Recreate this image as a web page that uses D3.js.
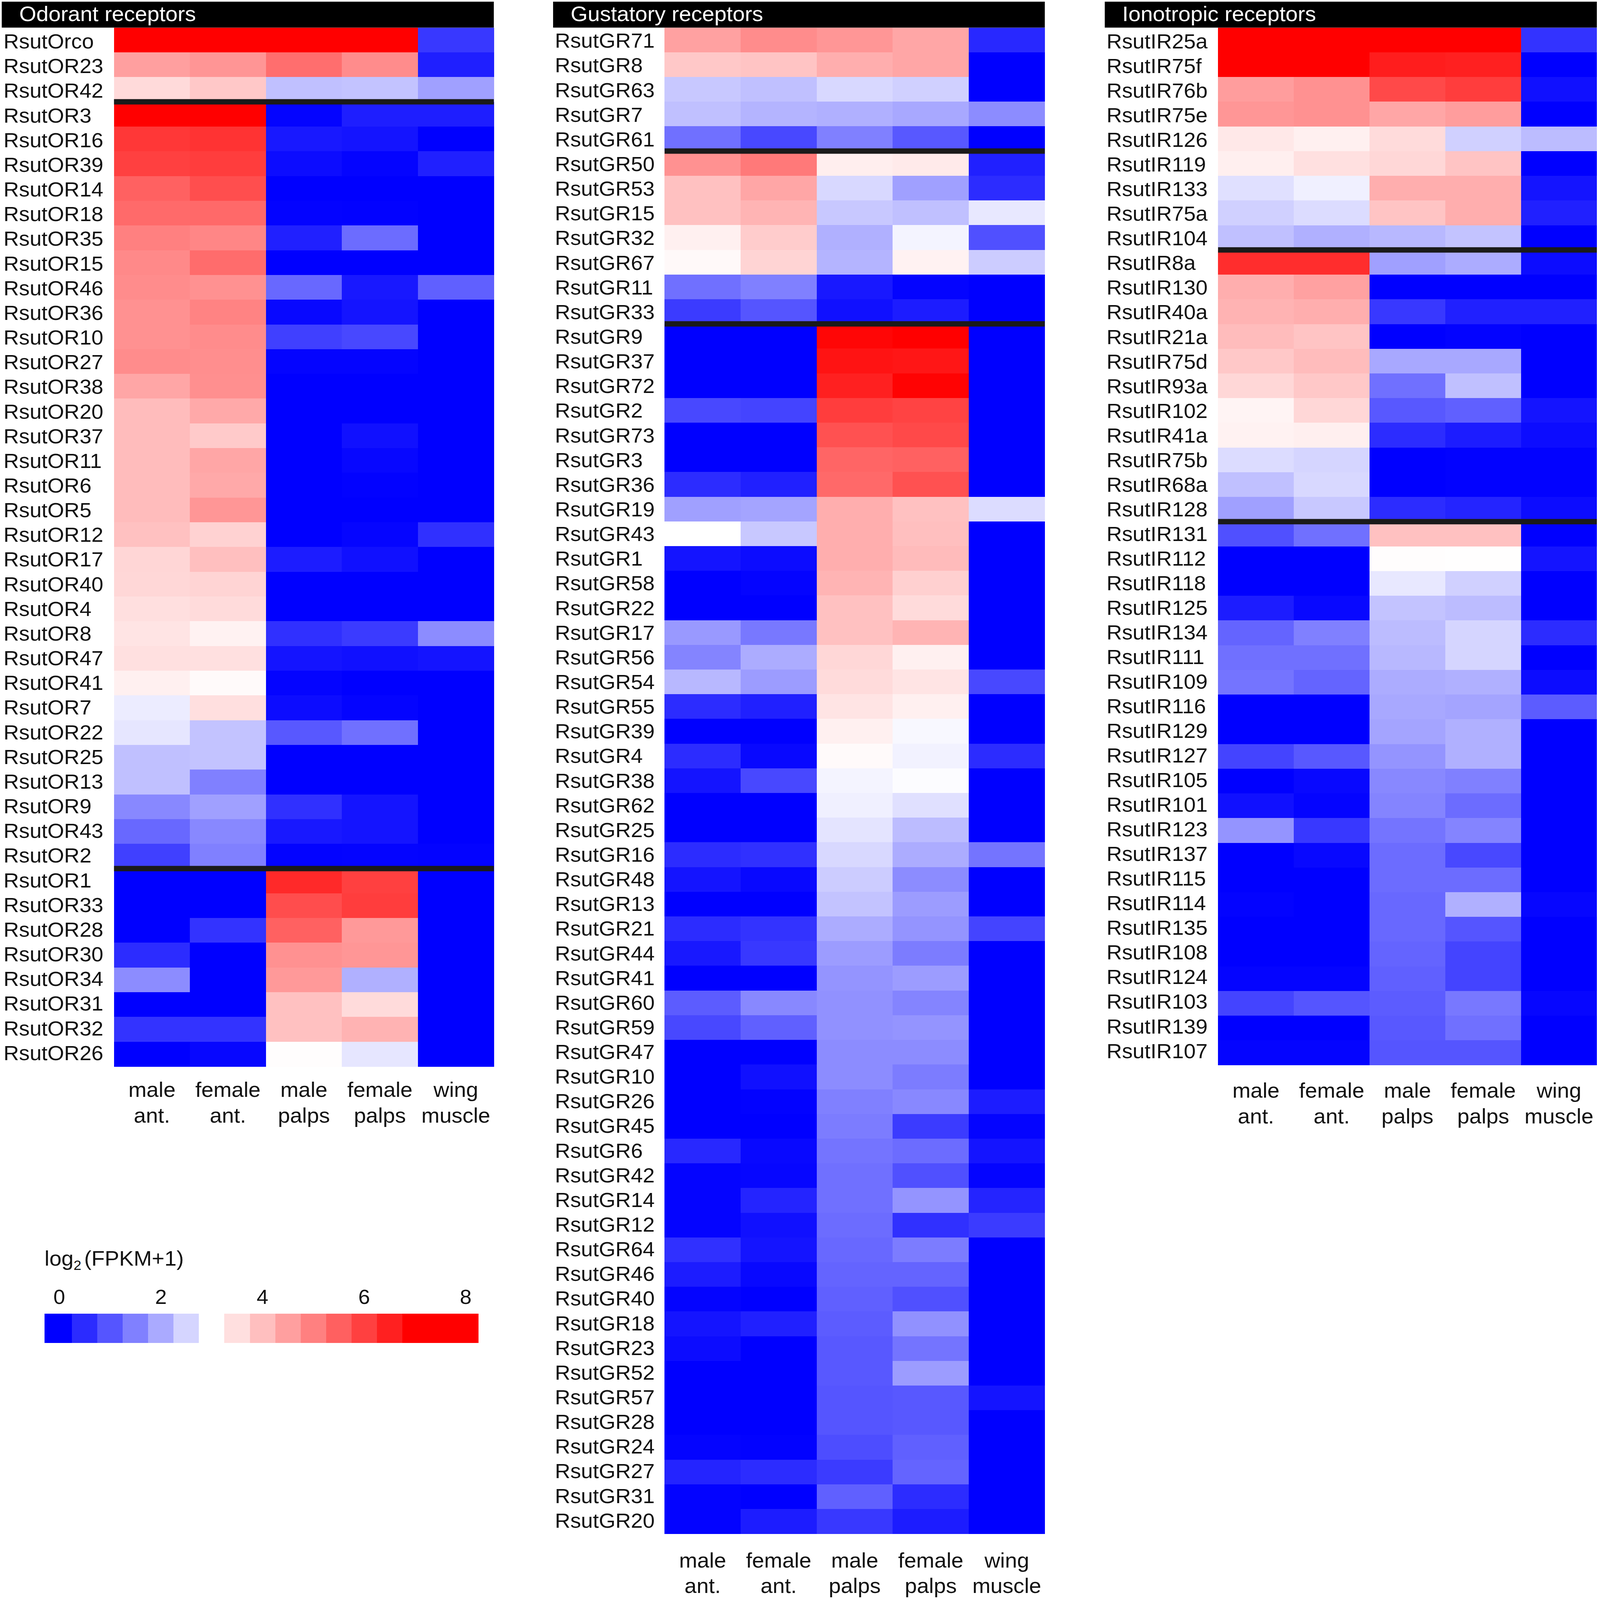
<!DOCTYPE html>
<html>
<head>
<meta charset="utf-8">
<title>Rsut chemosensory receptors heatmap</title>
<script src="https://cdn.jsdelivr.net/npm/d3@7"></script>
<style>
    html, body { margin: 0; background: #fff; overflow: hidden; }
    svg { display: block; width: 100vw; height: 100vh; }
    text { font-family: "Liberation Sans", Arial, sans-serif; fill: #111; }
</style>
</head>
<body>
<svg id="fig" viewBox="0 0 4562 4753" preserveAspectRatio="none"></svg>
<script>
// columns (two line labels)
const tissues = ["male ant.", "female ant.", "male palps", "female palps", "wing muscle"];

const orGenes = ["RsutOrco", "RsutOR23", "RsutOR42", "RsutOR3", "RsutOR16", "RsutOR39", "RsutOR14", "RsutOR18", "RsutOR35", "RsutOR15", "RsutOR46", "RsutOR36", "RsutOR10", "RsutOR27", "RsutOR38", "RsutOR20", "RsutOR37", "RsutOR11", "RsutOR6", "RsutOR5", "RsutOR12", "RsutOR17", "RsutOR40", "RsutOR4", "RsutOR8", "RsutOR47", "RsutOR41", "RsutOR7", "RsutOR22", "RsutOR25", "RsutOR13", "RsutOR9", "RsutOR43", "RsutOR2", "RsutOR1", "RsutOR33", "RsutOR28", "RsutOR30", "RsutOR34", "RsutOR31", "RsutOR32", "RsutOR26"];
const orValues = [
    [8, 8, 8, 8, .66], [4.5, 4.67, 5.27, 4.8, .36], [3.58, 3.86, 2.26, 2.3, 1.88],
    [7.5, 7.5, .05, .35, .35], [6.14, 6.2, .28, .24, 0], [6, 6.05, .14, .05, .38],
    [5.48, 5.77, 0, 0, 0], [5.33, 5.35, .03, .02, 0], [5, 4.9, .38, 1.27, 0],
    [4.85, 5.3, 0, 0, 0], [4.8, 4.72, 1.22, .28, 1.13], [4.72, 4.95, .09, .24, 0],
    [4.72, 4.8, .75, .85, 0], [4.8, 4.78, .05, .05, 0], [4.4, 4.76, 0, 0, 0],
    [4.05, 4.35, 0, 0, 0], [4.05, 3.83, 0, .19, 0], [4.05, 4.4, 0, .08, 0],
    [4.05, 4.35, 0, .02, 0], [4.05, 4.65, 0, 0, 0], [3.98, 3.7, 0, .06, .56],
    [3.65, 4, .33, .19, 0], [3.62, 3.67, 0, 0, 0], [3.5, 3.56, 0, 0, 0],
    [3.42, 3.2, .56, .7, 1.65], [3.48, 3.48, .24, .19, .24], [3.23, 3.08, .05, 0, 0],
    [2.78, 3.5, .14, .05, 0], [2.7, 2.3, 1.04, 1.32, 0], [2.26, 2.3, 0, 0, 0],
    [2.26, 1.5, 0, 0, 0], [1.6, 1.88, .56, .24, 0], [1.22, 1.6, .28, .24, 0],
    [.75, 1.5, .03, .05, .03], [0, 0, 6.36, 6, 0], [0, 0, 5.8, 6.05, 0],
    [0, .6, 5.48, 4.6, 0], [.52, 0, 4.72, 4.65, 0], [1.65, 0, 4.6, 2.07, 0],
    [0, 0, 3.98, 3.56, 0], [.6, .6, 3.98, 4.2, 0], [0, .08, 3.03, 2.7, 0]
];

const grGenes = ["RsutGR71", "RsutGR8", "RsutGR63", "RsutGR7", "RsutGR61", "RsutGR50", "RsutGR53", "RsutGR15", "RsutGR32", "RsutGR67", "RsutGR11", "RsutGR33", "RsutGR9", "RsutGR37", "RsutGR72", "RsutGR2", "RsutGR73", "RsutGR3", "RsutGR36", "RsutGR19", "RsutGR43", "RsutGR1", "RsutGR58", "RsutGR22", "RsutGR17", "RsutGR56", "RsutGR54", "RsutGR55", "RsutGR39", "RsutGR4", "RsutGR38", "RsutGR62", "RsutGR25", "RsutGR16", "RsutGR48", "RsutGR13", "RsutGR21", "RsutGR44", "RsutGR41", "RsutGR60", "RsutGR59", "RsutGR47", "RsutGR10", "RsutGR26", "RsutGR45", "RsutGR6", "RsutGR42", "RsutGR14", "RsutGR12", "RsutGR64", "RsutGR46", "RsutGR40", "RsutGR18", "RsutGR23", "RsutGR52", "RsutGR57", "RsutGR28", "RsutGR24", "RsutGR27", "RsutGR31", "RsutGR20"];
const grValues = [
    [4.47, 4.8, 4.65, 4.4, .47], [3.86, 3.92, 4.27, 4.4, 0], [2.35, 2.26, 2.54, 2.45, 0],
    [2.26, 2.12, 2.07, 1.98, 1.65], [1.32, .85, 1.5, 1.04, 0], [4.72, 5.1, 3.27, 3.33, .38],
    [3.98, 4.4, 2.54, 1.88, .52], [3.98, 4.17, 2.35, 2.26, 2.73], [3.23, 3.8, 2.07, 2.87, .94],
    [3.1, 3.67, 2.12, 3.2, 2.4], [1.32, 1.5, .28, .05, 0], [.7, 1, .19, .33, 0],
    [0, 0, 6.9, 7.2, 0], [0, 0, 6.7, 6.65, 0], [0, 0, 6.5, 6.95, 0],
    [.85, .8, 6.05, 5.95, 0], [0, 0, 5.73, 5.85, 0], [0, 0, 5.42, 5.48, 0],
    [.52, .38, 5.35, 5.73, 0], [1.88, 1.93, 4.27, 3.98, 2.59], [3, 2.35, 4.27, 4, 0],
    [.24, .14, 4.27, 4.07, 0], [0, .05, 4.17, 3.73, 0], [0, 0, 3.98, 3.56, 0],
    [1.8, 1.41, 3.98, 4.17, 0], [1.55, 2.02, 3.62, 3.23, 0], [2.16, 1.84, 3.56, 3.42, .85],
    [.52, .38, 3.42, 3.23, 0], [0, 0, 3.23, 2.92, 0], [.52, .09, 3.08, 2.85, .52],
    [.24, .85, 2.87, 2.97, 0], [0, 0, 2.82, 2.64, 0], [0, 0, 2.68, 2.21, 0],
    [.52, .56, 2.54, 2.02, 1.36], [.24, .09, 2.4, 1.65, 0], [0, 0, 2.3, 1.84, 0],
    [.52, .6, 2.02, 1.74, .8], [.28, .66, 1.84, 1.46, 0], [0, 0, 1.74, 1.84, 0],
    [1.08, 1.6, 1.7, 1.55, 0], [.85, 1.13, 1.7, 1.74, 0], [0, 0, 1.65, 1.65, 0],
    [0, .19, 1.65, 1.46, 0], [0, .02, 1.5, 1.6, .33], [0, 0, 1.46, .7, .05],
    [.47, .09, 1.36, 1.27, .24], [.05, .07, 1.32, .94, .05], [.05, .42, 1.32, 1.74, .42],
    [.05, .19, 1.27, .56, .7], [.56, .24, 1.22, 1.46, 0], [.33, .09, 1.18, 1.18, 0],
    [.05, 0, 1.13, .94, 0], [.24, .38, 1.08, 1.7, 0], [.14, 0, 1.04, 1.36, 0],
    [0, 0, 1.04, 1.84, 0], [0, 0, 1, 1.04, .24], [0, 0, 1, 1.04, 0],
    [.05, .02, .9, 1.13, 0], [.42, .52, .7, 1.18, 0], [.03, 0, 1.13, .52, 0],
    [.03, .33, .66, .33, 0]
];

const irGenes = ["RsutIR25a", "RsutIR75f", "RsutIR76b", "RsutIR75e", "RsutIR126", "RsutIR119", "RsutIR133", "RsutIR75a", "RsutIR104", "RsutIR8a", "RsutIR130", "RsutIR40a", "RsutIR21a", "RsutIR75d", "RsutIR93a", "RsutIR102", "RsutIR41a", "RsutIR75b", "RsutIR68a", "RsutIR128", "RsutIR131", "RsutIR112", "RsutIR118", "RsutIR125", "RsutIR134", "RsutIR111", "RsutIR109", "RsutIR116", "RsutIR129", "RsutIR127", "RsutIR105", "RsutIR101", "RsutIR123", "RsutIR137", "RsutIR115", "RsutIR114", "RsutIR135", "RsutIR108", "RsutIR124", "RsutIR103", "RsutIR139", "RsutIR107"];
const irValues = [
    [8, 8, 8, 8, .6], [8, 8, 6.55, 6.5, 0], [4.53, 4.72, 5.85, 6.05, .19],
    [4.65, 4.72, 4.4, 4.53, 0], [3.36, 3.23, 3.56, 2.45, 2.21], [3.25, 3.48, 3.62, 3.92, 0],
    [2.64, 2.82, 4.27, 4.27, .24], [2.45, 2.59, 3.92, 4.27, .38], [2.26, 2.07, 2.16, 2.3, 0],
    [6.3, 6.3, 1.88, 2.02, .14], [4.27, 4.47, 0, 0, 0], [4.2, 4.27, .66, .38, .38],
    [4.05, 3.92, 0, .03, 0], [3.86, 4.05, 1.98, 1.98, 0], [3.62, 3.86, 1.32, 2.26, 0],
    [3.17, 3.62, 1.04, 1.13, .24], [3.2, 3.25, .52, .33, .14], [2.59, 2.5, 0, .02, .02],
    [2.26, 2.54, 0, .02, .02], [1.88, 2.35, .52, .42, .14], [.94, 1.32, 3.98, 3.98, 0],
    [0, 0, 3.03, 3.02, .24], [0, 0, 2.73, 2.45, 0], [.33, .09, 2.3, 2.21, 0],
    [1.18, 1.5, 2.21, 2.5, .52], [1.32, 1.32, 2.16, 2.5, 0], [1.36, 1.18, 2.02, 2.07, .14],
    [0, 0, 1.98, 1.93, 1.08], [0, 0, 1.93, 2.07, 0], [.8, 1.04, 1.74, 2.07, 0],
    [0, .09, 1.6, 1.5, 0], [.19, .05, 1.55, 1.27, 0], [1.74, .66, 1.36, 1.55, 0],
    [0, .09, 1.27, .85, 0], [0, 0, 1.27, 1.27, 0], [.03, 0, 1.22, 2.07, .07],
    [0, 0, 1.22, 1, 0], [0, 0, 1.18, .8, 0], [.05, .05, 1.13, .8, 0],
    [.8, 1, 1.08, 1.41, .07], [0, 0, 1.04, 1.32, 0], [.05, .05, 1, 1, 0]
];

// legend bins, in log2(FPKM+1) units
const legendTicks = [0, 2, 4, 6, 8];
const legendBins = [0, .5, 1, 1.5, 2, 2.5, 3, 3.5, 4, 4.5, 5, 5.5, 6, 6.5, 7, 7.5, 8];

const svg = d3.select("#fig");
const fontSize = 61;

// blue - white - red, white sits at 3
const color = d3.scaleLinear().domain([0, 3, 7]).range(["#0000ff", "#ffffff", "#ff0000"]).clamp(true);

function heatmap(genes, values, title, p) {
    const g = svg.append("g");
    const xScale = d3.scaleBand().domain(tissues).range([p.heatLeft, p.right]);
    const yScale = d3.scaleBand().domain(genes).range([82, p.bottom]);
    const labelY = d3.scalePoint().domain(genes).range(p.labelRange);

    // title strip
    g.append("rect")
        .attr("x", p.left)
        .attr("y", 5)
        .attr("width", p.right - p.left)
        .attr("height", 77)
        .attr("fill", "black");
    g.append("text")
        .attr("x", p.left + 50)
        .attr("y", 63)
        .style("font-size", "62.5px")
        .style("fill", "white")
        .text(title);

    genes.forEach((gene, i) => {
        g.selectAll(null)
            .data(values[i])
            .enter()
            .append("rect")
            .attr("x", (d, j) => xScale(tissues[j]))
            .attr("y", yScale(gene))
            .attr("width", xScale.bandwidth() + .5)
            .attr("height", yScale.bandwidth() + .5)
            .attr("fill", d => color(d))
            .attr("shape-rendering", "crispEdges");
    });

    g.selectAll(".gene")
        .data(genes)
        .enter()
        .append("text")
        .attr("class", "gene")
        .attr("x", p.left + 5)
        .attr("y", d => labelY(d))
        .style("font-size", fontSize + "px")
        .text(d => d);

    // heavy separators between expression groups
    g.selectAll(".sep")
        .data(p.separators)
        .enter()
        .append("rect")
        .attr("class", "sep")
        .attr("x", p.heatLeft)
        .attr("y", d => yScale(genes[d]) - 8)
        .attr("width", p.right - p.heatLeft)
        .attr("height", 16)
        .attr("fill", "#1a1a1a");

    // column labels
    tissues.forEach(t => {
        const xc = xScale(t) + xScale.bandwidth() / 2;
        t.split(" ").forEach((word, k) => {
            g.append("text")
                .attr("x", xc)
                .attr("y", p.tickY[k])
                .attr("text-anchor", "middle")
                .style("font-size", "62px")
                .text(word);
        });
    });
}

heatmap(orGenes, orValues, "Odorant receptors", {
    left: 5, heatLeft: 325, right: 1408, bottom: 3168,
    labelRange: [144, 3149], tickY: [3258, 3335], separators: [3, 34]
});
heatmap(grGenes, grValues, "Gustatory receptors", {
    left: 1577, heatLeft: 1895, right: 2979, bottom: 4556,
    labelRange: [142, 4538], tickY: [4657, 4732], separators: [5, 12]
});
heatmap(irGenes, irValues, "Ionotropic receptors", {
    left: 3150, heatLeft: 3473, right: 4553, bottom: 3164,
    labelRange: [144, 3143], tickY: [3261, 3337], separators: [9, 20]
});

// Legend
const legendX = d3.scaleLinear().domain([0, 8]).range([169, 1328]);
const legend = svg.append("g");

const legendTitle = legend.append("text")
    .attr("x", 127)
    .attr("y", 3760)
    .style("font-size", "62px");
legendTitle.append("tspan").text("log");
legendTitle.append("tspan").attr("dy", 13).style("font-size", "40px").text("2");
legendTitle.append("tspan").attr("dy", -13).attr("dx", 8).text("(FPKM+1)");

legend.selectAll(".bin")
    .data(legendBins)
    .enter()
    .append("rect")
    .attr("class", "bin")
    .attr("x", d => legendX(d === 0 ? -.29 : d - .25))
    .attr("y", 3903)
    .attr("width", d => legendX(d + .25) - legendX(d === 0 ? -.29 : d - .25) + .5)
    .attr("height", 87)
    .attr("fill", d => color(d))
    .attr("shape-rendering", "crispEdges");

legend.selectAll(".tick")
    .data(legendTicks)
    .enter()
    .append("text")
    .attr("class", "tick")
    .attr("x", d => legendX(d))
    .attr("y", 3874)
    .attr("text-anchor", "middle")
    .style("font-size", "60px")
    .text(d => d);
</script>
</body>
</html>
